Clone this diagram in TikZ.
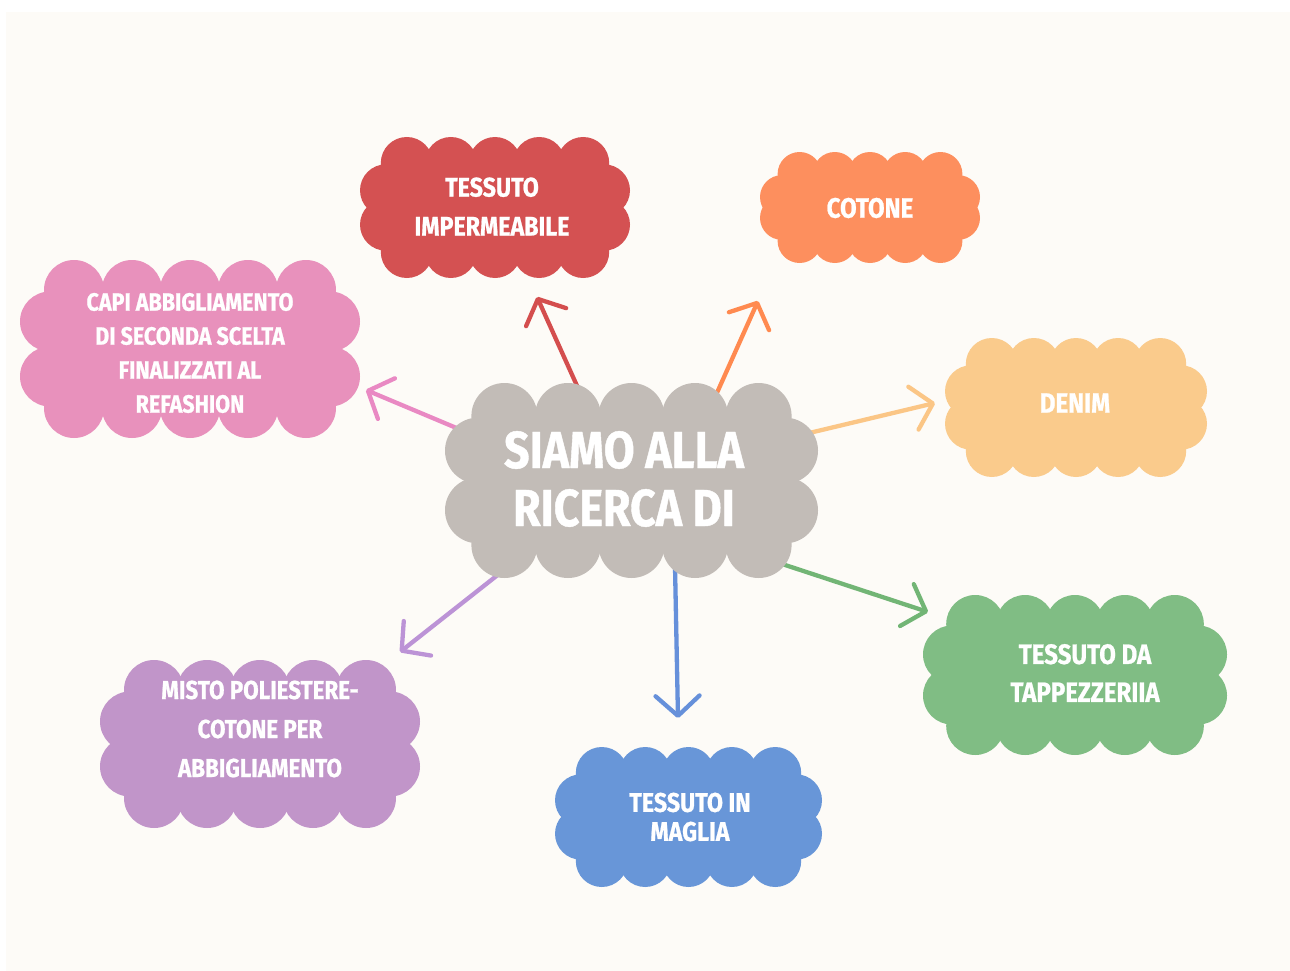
\documentclass[tikz,border=0pt]{standalone}
\usepackage{fontspec}
\newfontfamily\cf{Fira Sans}[FakeStretch=0.86, FakeBold=0.8]
\usetikzlibrary{arrows.meta}
\definecolor{bgc}{HTML}{FDFBF7}
\definecolor{cgray}{HTML}{C2BCB7}
\definecolor{cred}{HTML}{D45152}
\definecolor{corange}{HTML}{FD8F5E}
\definecolor{cpeach}{HTML}{FACB8C}
\definecolor{cpink}{HTML}{E891BC}
\definecolor{cpurple}{HTML}{C195C9}
\definecolor{cblue}{HTML}{6896D8}
\definecolor{cgreen}{HTML}{80BD84}
\definecolor{ared}{HTML}{D44E4E}
\definecolor{aorange}{HTML}{FF8A50}
\definecolor{apeach}{HTML}{FBC686}
\definecolor{apink}{HTML}{E989C3}
\definecolor{apurple}{HTML}{BC93D6}
\definecolor{ablue}{HTML}{6690DA}
\definecolor{agreen}{HTML}{72B575}
% #1 x0, #2 y0, #3 x1, #4 y1, #5 nx, #6 ny, #7 r, #8 colour
\newcommand{\mycloud}[8]{%
  \pgfmathsetmacro\cdx{0.8*#7}%
  \pgfmathsetmacro\cdy{1.05*#7}%
  \pgfmathsetmacro\cxa{#1+#7+\cdx}%
  \pgfmathsetmacro\cxb{#3-#7-\cdx}%
  \pgfmathsetmacro\cya{#2+#7+\cdy}%
  \pgfmathsetmacro\cyb{#4-#7-\cdy}%
  \fill[#8] (#1+#7,#2+#7) rectangle (#3-#7,#4-#7);
  \foreach \ci in {1,...,#5}{%
    \pgfmathsetmacro\ccx{\cxa+(\cxb-\cxa)*(\ci-1)/(#5-1)}%
    \fill[#8] (\ccx,#2+#7) circle[radius=#7];
    \fill[#8] (\ccx,#4-#7) circle[radius=#7];
  }
  \foreach \cj in {1,...,#6}{%
    \pgfmathsetmacro\ccy{\cya+(\cyb-\cya)*(\cj-1)/(#6-1)}%
    \fill[#8] (#1+#7,\ccy) circle[radius=#7];
    \fill[#8] (#3-#7,\ccy) circle[radius=#7];
  }
}
\begin{document}
\begin{tikzpicture}[x=1pt,y=-1pt,
  txt/.style={text=white, align=center, inner sep=0pt},
  arr/.style={line width=4.3pt, line cap=round, line join=round,
    -{Straight Barb[length=20pt,width=44pt,round]}}]
\useasboundingbox (0,0) rectangle (1290,971);
\fill[white] (0,0) rectangle (1290,971);
\fill[bgc] (6,12) rectangle (1290,971);
% arrow end points
\coordinate (s1) at (578,388); \coordinate (e1) at (537,297);
\coordinate (s2) at (716,395); \coordinate (e2) at (758,301);
\coordinate (s3) at (805,434); \coordinate (e3) at (935,403);
\coordinate (s4) at (776,562); \coordinate (e4) at (928,612);
\coordinate (s5) at (675,566); \coordinate (e5) at (678,718);
\coordinate (s6) at (504,570); \coordinate (e6) at (400,652);
\coordinate (s7) at (466,432); \coordinate (e7) at (366,390);
\draw[arr, ared] (s1) -- (e1);
\draw[arr, aorange] (s2) -- (e2);
\draw[arr, apeach] (s3) -- (e3);
\draw[arr, agreen] (s4) -- (e4);
\draw[arr, ablue] (s5) -- (e5);
\draw[arr, apurple] (s6) -- (e6);
\draw[arr, apink] (s7) -- (e7);
% clouds
\mycloud{445}{383}{818}{578}{5}{2}{33}{cgray}
\mycloud{360}{137}{630}{278}{5}{2}{26}{cred}
\mycloud{760}{152}{980}{263}{5}{2}{22}{corange}
\mycloud{945}{338}{1207}{477}{5}{2}{26}{cpeach}
\mycloud{20}{260}{360}{438}{5}{2}{30}{cpink}
\mycloud{100}{660}{420}{828}{5}{2}{30}{cpurple}
\mycloud{555}{747}{822}{887}{5}{2}{26}{cblue}
\mycloud{923}{595}{1227}{755}{5}{2}{29}{cgreen}
% texts
\node[txt, font=\cf\bfseries\fontsize{52}{58}\selectfont] (hub) at (624,479) {SIAMO ALLA\\RICERCA DI};
\node[txt, font=\cf\bfseries\fontsize{27}{39}\selectfont] (imp) at (492,206.5) {TESSUTO\\IMPERMEABILE};
\node[txt, font=\cf\bfseries\fontsize{28}{34}\selectfont] (cot) at (870,208) {COTONE};
\node[txt, font=\cf\bfseries\fontsize{28}{34}\selectfont] (den) at (1075,403) {DENIM};
\node[txt, font=\cf\bfseries\fontsize{25}{34}\selectfont] (capi) at (190,353) {CAPI ABBIGLIAMENTO\\DI SECONDA SCELTA\\FINALIZZATI AL\\REFASHION};
\node[txt, font=\cf\bfseries\fontsize{26}{39}\selectfont] (misto) at (260,729) {MISTO POLIESTERE-\\COTONE PER\\ABBIGLIAMENTO};
\node[txt, font=\cf\bfseries\fontsize{27}{29}\selectfont] (mag) at (690,817) {TESSUTO IN\\MAGLIA};
\node[txt, font=\cf\bfseries\fontsize{28}{38}\selectfont] (tap) at (1085,673) {TESSUTO DA\\TAPPEZZERIIA};
\end{tikzpicture}
\end{document}
